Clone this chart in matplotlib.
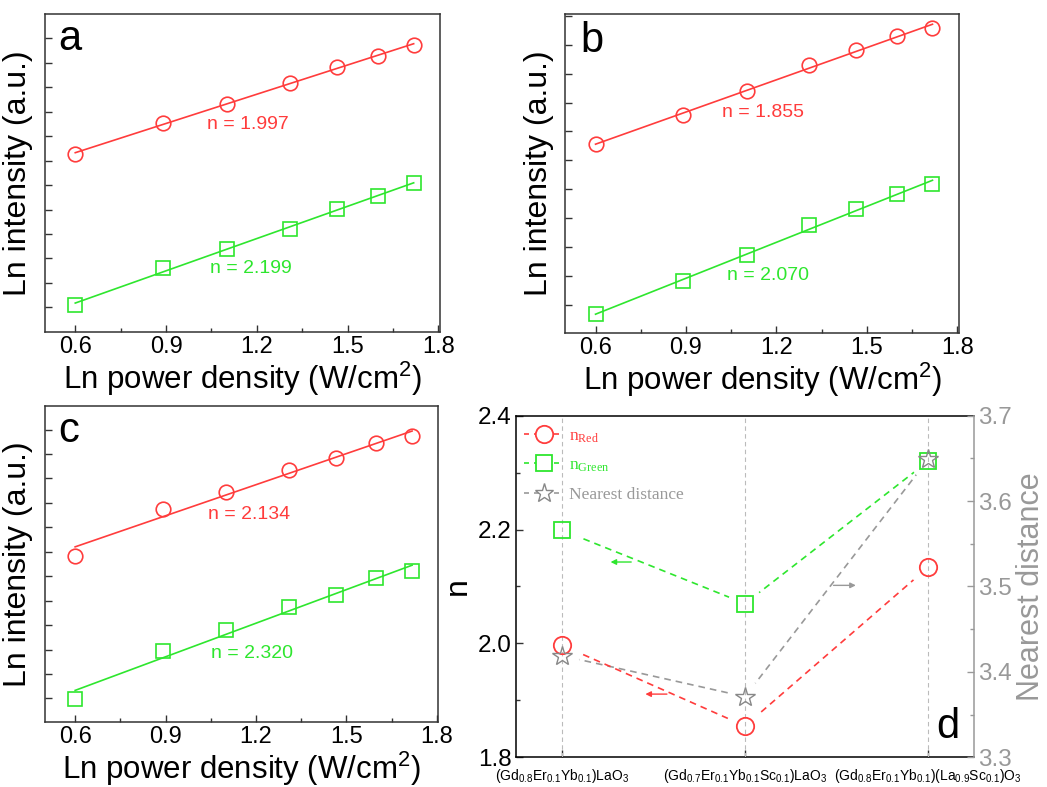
import numpy as np
import matplotlib
matplotlib.use("Agg")
import matplotlib.pyplot as plt
from matplotlib.lines import Line2D
from matplotlib.ticker import MultipleLocator, FormatStrFormatter

plt.rcParams['font.family'] = ['Liberation Sans', 'DejaVu Sans']
plt.rcParams['mathtext.fontset'] = 'custom'
plt.rcParams['mathtext.rm'] = 'Liberation Serif'
plt.rcParams['mathtext.sf'] = 'Liberation Sans'
plt.rcParams['mathtext.it'] = 'Liberation Sans:italic'

# ---------------- data ----------------
ln_power = [0.60, 0.891, 1.102, 1.308, 1.464, 1.599, 1.718]

a_red = [3.134, 3.774, 4.149, 4.584, 4.911, 5.136, 5.368]
a_green = [0.048, 0.797, 1.192, 1.608, 2.003, 2.282, 2.541]
b_red = [2.785, 3.285, 3.692, 4.157, 4.407, 4.651, 4.797]
b_green = [-0.163, 0.413, 0.855, 1.384, 1.657, 1.919, 2.093]
c_red = [2.922, 3.884, 4.225, 4.676, 4.915, 5.222, 5.365]
c_green = [-0.02, 0.976, 1.399, 1.877, 2.116, 2.457, 2.608]

slope_labels = {
    'a': ('n = 1.997', 'n = 2.199'),
    'b': ('n = 1.855', 'n = 2.070'),
    'c': ('n = 2.134', 'n = 2.320'),
}

compounds = [
    r'(Gd$_{\mathsf{0.8}}$Er$_{\mathsf{0.1}}$Yb$_{\mathsf{0.1}}$)LaO$_{\mathsf{3}}$',
    r'(Gd$_{\mathsf{0.7}}$Er$_{\mathsf{0.1}}$Yb$_{\mathsf{0.1}}$Sc$_{\mathsf{0.1}}$)LaO$_{\mathsf{3}}$',
    r'(Gd$_{\mathsf{0.8}}$Er$_{\mathsf{0.1}}$Yb$_{\mathsf{0.1}}$)(La$_{\mathsf{0.9}}$Sc$_{\mathsf{0.1}}$)O$_{\mathsf{3}}$',
]
n_red = [1.997, 1.855, 2.134]
n_green = [2.199, 2.070, 2.320]
nearest = [3.419, 3.371, 3.649]

RED = '#ff3c3c'
GREEN = '#2ee62e'
GRAY = '#999999'
SPINE = '#333333'

fig = plt.figure(figsize=(10.47, 7.87), dpi=100)

panels = [
    ('a', [0.04298, 0.5785, 0.37727, 0.40368], a_red, a_green, (-0.497, 5.995),
     (0.033, 0.887), [(1.036, 3.747), (1.046, 0.797)]),
    ('b', [0.54002, 0.57713, 0.37564, 0.40496], b_red, b_green, (-0.483, 5.03),
     (0.038, 0.881), [(1.02, 3.326), (1.035, 0.506)]),
    ('c', [0.04298, 0.08221, 0.37564, 0.40229], c_red, c_green, (-0.49, 5.99),
     (0.034, 0.886), [(1.04, 3.754), (1.051, 0.908)]),
]

for letter, pos, red, green, ylim, lpos, tpos in panels:
    ax = fig.add_axes(pos)
    x = np.array(ln_power)
    for ys, col, mk, ms in [(red, RED, 'o', 10.5), (green, GREEN, 's', 9.5)]:
        ys = np.array(ys)
        p = np.polyfit(x, ys, 1)
        xf = np.array([x[0], x[-1]])
        ax.plot(xf, np.polyval(p, xf), '-', color=col, lw=1.2, zorder=2)
        ax.plot(x, ys, mk, ms=ms, mfc='none', mec=col, mew=1.2, zorder=3)
    ax.set_xlim(0.5, 1.805)
    ax.set_ylim(*ylim)
    ax.xaxis.set_major_locator(MultipleLocator(0.3))
    ax.xaxis.set_minor_locator(MultipleLocator(0.15))
    ax.yaxis.set_major_locator(MultipleLocator(0.5))
    ax.set_yticklabels([])
    ax.tick_params(axis='both', which='both', direction='in', top=False, right=False,
                   colors=SPINE, labelcolor='black')
    ax.tick_params(axis='x', which='major', length=5, width=1, labelsize=17, pad=3)
    ax.tick_params(axis='x', which='minor', length=3, width=1)
    ax.tick_params(axis='y', which='major', length=5, width=1)
    ax.xaxis.set_major_formatter(FormatStrFormatter('%.1f'))
    for s in ax.spines.values():
        s.set_color(SPINE)
        s.set_linewidth(1.1)
    ax.set_xlabel(r'Ln power density (W/cm$^{\mathsf{2}}$)', fontsize=22.5, labelpad=1)
    ax.set_ylabel('Ln intensity (a.u.)', fontsize=23, labelpad=5)
    ax.text(lpos[0], lpos[1], letter, transform=ax.transAxes, fontsize=30,
            ha='left', va='baseline')
    ax.text(tpos[0][0], tpos[0][1], slope_labels[letter][0], color=RED, fontsize=14,
            ha='left', va='center')
    ax.text(tpos[1][0], tpos[1][1], slope_labels[letter][1], color=GREEN, fontsize=14,
            ha='left', va='center')

# ---------------- panel d ----------------
axd = fig.add_axes([0.49284, 0.03774, 0.43744, 0.43406])
axr = axd.twinx()
axr.set_zorder(axd.get_zorder() + 1)
axr.patch.set_visible(False)
axr.set_ylim(3.3, 3.7)
axd.set_ylim(1.8, 2.4)
axd.set_xlim(-0.25, 2.25)
xc = np.arange(len(compounds))

def to_r(vals):
    # map left-axis values onto the right axis through the display transform
    pts = axd.transData.transform(np.column_stack([xc[:len(vals)], vals]))
    return axr.transData.inverted().transform(pts)[:, 1]

dash = (0, (4, 3))
red_r = to_r(n_red)
green_r = to_r(n_green)

# dashed connecting lines
axr.plot(xc, nearest, ls=dash, color=GRAY, lw=1.2, zorder=1.5)
axr.plot(xc, red_r, ls=dash, color=RED, lw=1.2, zorder=1.5)
axr.plot(xc, green_r, ls=dash, color=GREEN, lw=1.2, zorder=1.5)
# white halos create the gaps around the symbols
axr.plot(xc, nearest, 'o', ms=24, mfc='white', mec='white', zorder=3)
axr.plot(xc, red_r, 'o', ms=27, mfc='white', mec='white', zorder=3)
axr.plot(xc, green_r, 'o', ms=25, mfc='white', mec='white', zorder=3)
# vertical guide lines
for xi in xc:
    axr.axvline(xi, color='#bbbbbb', lw=0.8, ls=(0, (4, 3)), zorder=3.5)
# symbols
axr.plot(xc, red_r, 'o', ms=12.5, mfc='none', mec=RED, mew=1.3, zorder=4)
axr.plot(xc, green_r, 's', ms=11, mfc='none', mec=GREEN, mew=1.3, zorder=4)
axr.plot(xc, nearest, '*', ms=14.5, mfc='none', mec='#888888', mew=1.0, zorder=5)

# arrows (positions given on the left axis)
arrows = [((0.251, 2.143), (0.394, 2.143), GREEN),
          ((0.441, 1.911), (0.589, 1.911), RED),
          ((1.62, 2.102), (1.468, 2.102), GRAY)]
for (hx, hy), (tx, ty), col in arrows:
    axd.annotate('', xy=(hx, hy), xytext=(tx, ty),
                 arrowprops=dict(arrowstyle='-|>', color=col, lw=1.0, mutation_scale=8))

axd.set_xticks(xc)
axd.set_xticklabels(compounds, fontsize=10)
axd.yaxis.set_major_locator(MultipleLocator(0.2))
axd.yaxis.set_minor_locator(MultipleLocator(0.1))
axd.yaxis.set_major_formatter(FormatStrFormatter('%.1f'))
axd.tick_params(axis='both', which='both', direction='in', top=False, right=False,
                colors=SPINE, labelcolor='black')
axd.tick_params(axis='y', which='major', length=5, width=1, labelsize=17.5, pad=3)
axd.tick_params(axis='y', which='minor', length=3, width=1)
axd.tick_params(axis='x', which='major', length=5, width=1, pad=7)
for k in ['left', 'bottom', 'top']:
    axd.spines[k].set_color('black')
    axd.spines[k].set_linewidth(1.1)
axd.spines['right'].set_visible(False)
for k in ['left', 'bottom', 'top']:
    axr.spines[k].set_visible(False)
axr.spines['right'].set_color(GRAY)
axr.spines['right'].set_linewidth(1.1)
axr.yaxis.set_major_locator(MultipleLocator(0.1))
axr.yaxis.set_minor_locator(MultipleLocator(0.05))
axr.yaxis.set_major_formatter(FormatStrFormatter('%.1f'))
axr.tick_params(axis='y', which='both', direction='in', colors=GRAY, labelcolor=GRAY)
axr.tick_params(axis='y', which='major', length=5, width=1, labelsize=17.5, pad=3)
axr.tick_params(axis='y', which='minor', length=3, width=1)
axd.set_ylabel('n', fontsize=23, labelpad=4)
axr.set_ylabel('Nearest distance', fontsize=22, color=GRAY, labelpad=3)
axd.text(0.917, 0.0565, 'd', transform=axd.transAxes, fontsize=30, ha='left', va='baseline')

handles = [
    Line2D([], [], ls=(0, (3, 3)), color=RED, lw=1.2, marker='o', ms=12.5, mfc='white', mec=RED, mew=1.3),
    Line2D([], [], ls=(0, (3, 3)), color=GREEN, lw=1.2, marker='s', ms=11, mfc='white', mec=GREEN, mew=1.3),
    Line2D([], [], ls=(0, (3, 3)), color=GRAY, lw=1.2, marker='*', ms=14, mfc='white', mec='#888888', mew=1.0),
]
labels = [r'n$_{\mathrm{Red}}$', r'n$_{\mathrm{Green}}$', 'Nearest distance']
leg = axr.legend(handles, labels, loc='upper left', bbox_to_anchor=(-0.005, 0.995), frameon=False,
                 prop={'family': 'Liberation Serif', 'size': 12.5}, handlelength=2.3,
                 handletextpad=0.3, labelspacing=0.72, borderaxespad=0.2)
leg.set_zorder(6)
for t, c in zip(leg.get_texts(), [RED, GREEN, GRAY]):
    t.set_color(c)

fig.savefig('out.png', dpi=100)
